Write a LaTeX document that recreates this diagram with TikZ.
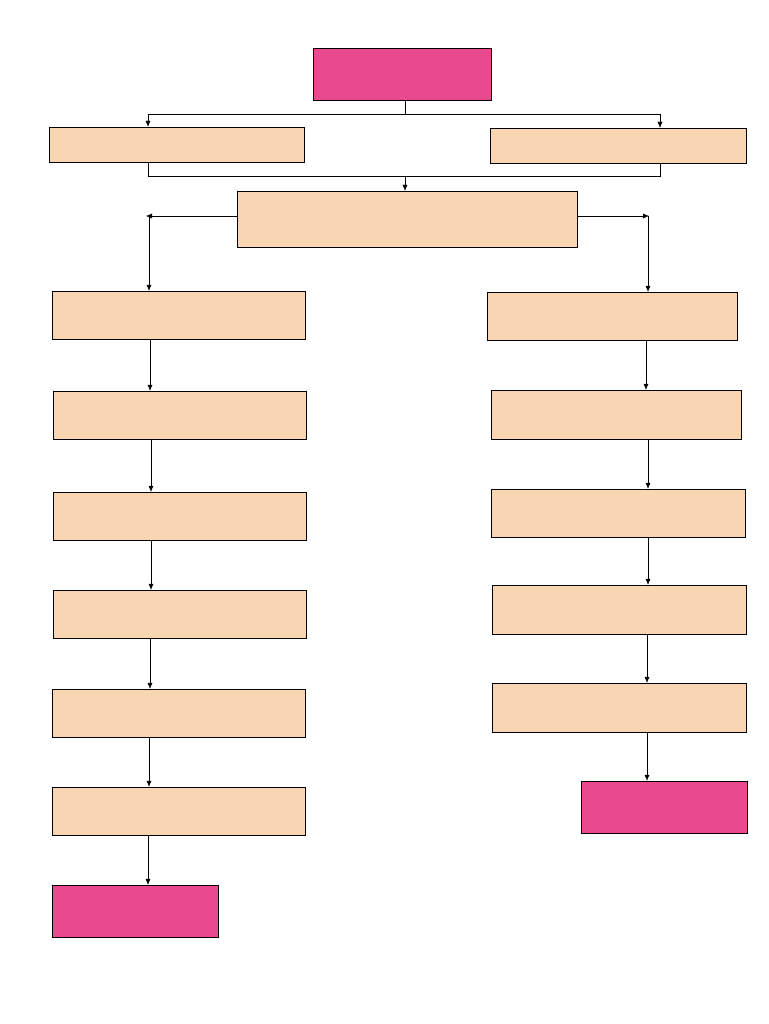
\documentclass[tikz,border=0pt]{standalone}
\usetikzlibrary{arrows.meta}
\definecolor{pk}{HTML}{E94A8F}
\definecolor{pc}{HTML}{FAD5B2}
\begin{document}
\begin{tikzpicture}[x=1pt,y=-1pt,
 bx/.style={draw,thin,fill=pc,inner sep=0pt},
 pb/.style={draw,thin,fill=pk,inner sep=0pt},
 arr/.style={-{Latex[length=6pt,width=5pt]},thin},
 ln/.style={thin}]
\useasboundingbox (0,0) rectangle (768,1024);
\node[pb,minimum width=178pt,minimum height=52pt] (top) at (402,74) {};
\node[bx,minimum width=255pt,minimum height=35pt] (L0) at (176.5,144.5) {};
\node[bx,minimum width=256pt,minimum height=35pt] (R0) at (618,145.5) {};
\node[bx,minimum width=340pt,minimum height=56pt] (mid) at (407,219) {};
\node[bx,minimum width=253pt,minimum height=48pt] (L1) at (178.5,315) {};
\node[bx,minimum width=253pt,minimum height=48pt] (L2) at (179.5,415) {};
\node[bx,minimum width=253pt,minimum height=48pt] (L3) at (179.5,516) {};
\node[bx,minimum width=253pt,minimum height=48pt] (L4) at (179.5,614) {};
\node[bx,minimum width=253pt,minimum height=48pt] (L5) at (178.5,713) {};
\node[bx,minimum width=253pt,minimum height=48pt] (L6) at (178.5,811) {};
\node[pb,minimum width=166pt,minimum height=52pt] (L7) at (135,911) {};
\node[bx,minimum width=250pt,minimum height=48pt] (R1) at (612,316) {};
\node[bx,minimum width=250pt,minimum height=49pt] (R2) at (616,414.5) {};
\node[bx,minimum width=254pt,minimum height=48pt] (R3) at (618,513) {};
\node[bx,minimum width=254pt,minimum height=49pt] (R4) at (619,609.5) {};
\node[bx,minimum width=254pt,minimum height=49pt] (R5) at (619,707.5) {};
\node[pb,minimum width=166pt,minimum height=52pt] (R6) at (664,807) {};
\coordinate (t1) at (405,114);
\coordinate (tl) at (148,114);
\coordinate (tr) at (660,114);
\draw[ln] (top.south -| t1) -- (t1) (tl) -- (tr);
\draw[arr] (tl) -- (L0.north -| tl);
\draw[arr] (tr) -- (R0.north -| tr);
\coordinate (bl) at (148,176);
\coordinate (br) at (660,176);
\coordinate (bm) at (405,176);
\draw[ln] (L0.south -| bl) -- (bl) -- (br) -- (R0.south -| br);
\draw[arr] (bm) -- (mid.north -| bm);
\coordinate (ml) at (146,216);
\coordinate (mr) at (649,216);
\draw[arr] (mid.west |- ml) -- (ml);
\draw[arr] (mid.east |- mr) -- (mr);
\coordinate (cl) at (149,216);
\coordinate (cr) at (648,216);
\draw[arr] (cl) -- (L1.north -| cl);
\draw[arr] (cr) -- (R1.north -| cr);
\coordinate (a1) at (150,0);
\coordinate (a2) at (151,0);
\coordinate (a3) at (149,0);
\coordinate (a4) at (148,0);
\draw[arr] (L1.south -| a1) -- (L2.north -| a1);
\draw[arr] (L2.south -| a2) -- (L3.north -| a2);
\draw[arr] (L3.south -| a2) -- (L4.north -| a2);
\draw[arr] (L4.south -| a1) -- (L5.north -| a1);
\draw[arr] (L5.south -| a3) -- (L6.north -| a3);
\draw[arr] (L6.south -| a4) -- (L7.north -| a4);
\coordinate (b1) at (646,0);
\coordinate (b2) at (648,0);
\coordinate (b3) at (647,0);
\draw[arr] (R1.south -| b1) -- (R2.north -| b1);
\draw[arr] (R2.south -| b2) -- (R3.north -| b2);
\draw[arr] (R3.south -| b2) -- (R4.north -| b2);
\draw[arr] (R4.south -| b3) -- (R5.north -| b3);
\draw[arr] (R5.south -| b3) -- (R6.north -| b3);
\end{tikzpicture}
\end{document}
